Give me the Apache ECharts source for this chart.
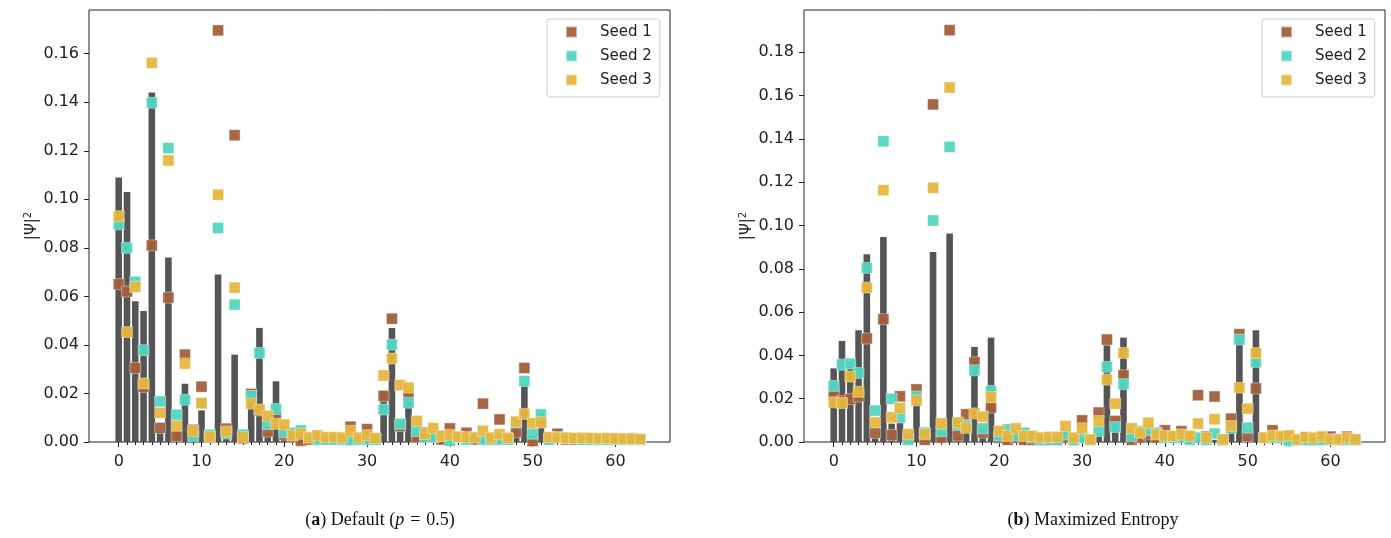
<!DOCTYPE html>
<html>
<head>
<meta charset="utf-8">
<script src="https://cdn.jsdelivr.net/npm/echarts@6/dist/echarts.min.js"></script>
<style>
    html, body { margin: 0; padding: 0; background: #fff; }
    #main { width: 1391px; height: 538px; }
</style>
</head>
<body>
<div id="main"></div>
<script>
// basis state index 0..63
var idx = [];
for (var i = 0; i < 64; i++) { idx.push(i); }

var xLabelTicks = [0, 10, 20, 30, 40, 50, 60];
var yTicksA = [0, 0.02, 0.04, 0.06, 0.08, 0.10, 0.12, 0.14, 0.16];
var yTicksB = [0, 0.02, 0.04, 0.06, 0.08, 0.10, 0.12, 0.14, 0.16, 0.18];
var seedNames = ['Seed 1', 'Seed 2', 'Seed 3'];

// (a) Default (p = 0.5)
var barsA = [0.109, 0.103, 0.058, 0.054, 0.144, 0.004, 0.076, 0.004, 0.024, 0.002,
    0.013, 0.001, 0.069, 0.002, 0.036, 0.001, 0.019, 0.047, 0.004, 0.025,
    0.001, 0.002, 0.001, 0.001, 0.001, 0.001, 0.001, 0.001, 0.001, 0.001,
    0.002, 0.001, 0.021, 0.047, 0.005, 0.020, 0.002, 0.001, 0.001, 0.001,
    0.001, 0.001, 0.001, 0.001, 0.001, 0.001, 0.001, 0.001, 0.006, 0.024,
    0.001, 0.012, 0.001, 0.001, 0.001, 0.001, 0.001, 0.001, 0.001, 0.001,
    0.001, 0.001, 0.001, 0.001];
var seed1A = [0.065, 0.062, 0.0305, 0.0227, 0.081, 0.0058, 0.0595, 0.0025, 0.036, 0.005,
    0.0228, 0.002, 0.1696, 0.0055, 0.1264, 0.0015, 0.0198, 0.013, 0.0043, 0.0104,
    0.003, 0.002, 0.0005, 0.001, 0.002, 0.001, 0.001, 0.001, 0.0063, 0.001,
    0.0053, 0.001, 0.019, 0.0508, 0.0066, 0.0193, 0.002, 0.0038, 0.002, 0.001,
    0.0056, 0.002, 0.0038, 0.001, 0.0158, 0.001, 0.0093, 0.001, 0.004, 0.0305,
    0.0004, 0.008, 0.001, 0.0034, 0.001, 0.001, 0.001, 0.001, 0.001, 0.001,
    0.0015, 0.001, 0.0015, 0.001];
var seed2A = [0.0897, 0.080, 0.066, 0.0378, 0.1398, 0.0167, 0.1211, 0.0112, 0.0174, 0.0025,
    0.016, 0.003, 0.0882, 0.0035, 0.0566, 0.003, 0.019, 0.0367, 0.0074, 0.0136,
    0.004, 0.0038, 0.0048, 0.002, 0.001, 0.001, 0.001, 0.001, 0.0008, 0.001,
    0.001, 0.001, 0.0134, 0.0401, 0.0075, 0.0162, 0.0045, 0.002, 0.002, 0.0025,
    0.0005, 0.002, 0.001, 0.002, 0.001, 0.001, 0.001, 0.001, 0.008, 0.0251,
    0.0034, 0.0114, 0.001, 0.002, 0.0015, 0.0015, 0.001, 0.001, 0.001, 0.001,
    0.001, 0.001, 0.001, 0.001];
var seed3A = [0.093, 0.0453, 0.0639, 0.0241, 0.1562, 0.012, 0.116, 0.0067, 0.0323, 0.0045,
    0.016, 0.0022, 0.1019, 0.0043, 0.0636, 0.002, 0.0158, 0.0134, 0.0108, 0.0075,
    0.0072, 0.0027, 0.0034, 0.0018, 0.0027, 0.002, 0.002, 0.0018, 0.0046, 0.0018,
    0.0028, 0.0016, 0.0274, 0.0344, 0.0234, 0.0224, 0.0087, 0.0033, 0.0057, 0.0025,
    0.003, 0.0022, 0.002, 0.0018, 0.0046, 0.0018, 0.0032, 0.0017, 0.0084, 0.0116,
    0.0077, 0.0082, 0.002, 0.0018, 0.0018, 0.0016, 0.0017, 0.0016, 0.0015, 0.0016,
    0.0014, 0.0014, 0.0013, 0.0012];

// (b) Maximized Entropy
var barsB = [0.034, 0.0467, 0.037, 0.0516, 0.0867, 0.002, 0.0947, 0.0085, 0.009, 0.001,
    0.018, 0.001, 0.0878, 0.002, 0.0963, 0.002, 0.010, 0.0439, 0.002, 0.0482,
    0.001, 0.001, 0.001, 0.001, 0.001, 0.001, 0.001, 0.001, 0.002, 0.001,
    0.002, 0.001, 0.004, 0.0447, 0.0105, 0.0482, 0.001, 0.001, 0.002, 0.001,
    0.001, 0.001, 0.001, 0.001, 0.001, 0.001, 0.001, 0.001, 0.009, 0.0495,
    0.001, 0.0516, 0.001, 0.001, 0.001, 0.001, 0.001, 0.001, 0.001, 0.001,
    0.001, 0.001, 0.001, 0.001];
var seed1B = [0.0225, 0.019, 0.0198, 0.021, 0.0478, 0.0042, 0.0567, 0.0032, 0.0211, 0.0015,
    0.0243, 0.001, 0.1559, 0.002, 0.1902, 0.003, 0.0128, 0.0368, 0.0043, 0.0159,
    0.002, 0.001, 0.002, 0.001, 0.001, 0.001, 0.001, 0.001, 0.002, 0.001,
    0.010, 0.001, 0.0136, 0.0473, 0.0097, 0.0308, 0.001, 0.002, 0.0035, 0.002,
    0.0054, 0.002, 0.005, 0.0025, 0.0216, 0.0025, 0.021, 0.001, 0.0108, 0.0498,
    0.0028, 0.0247, 0.002, 0.0054, 0.002, 0.002, 0.001, 0.002, 0.001, 0.002,
    0.0025, 0.001, 0.0025, 0.001];
var seed2B = [0.0259, 0.0357, 0.0362, 0.0319, 0.0804, 0.0145, 0.1389, 0.0199, 0.0113, 0.001,
    0.021, 0.0043, 0.1023, 0.005, 0.1363, 0.008, 0.0074, 0.0331, 0.0063, 0.0236,
    0.003, 0.0058, 0.003, 0.0043, 0.002, 0.001, 0.001, 0.001, 0.0035, 0.001,
    0.002, 0.001, 0.0051, 0.0347, 0.0069, 0.0267, 0.0028, 0.005, 0.0055, 0.0043,
    0.002, 0.002, 0.002, 0.001, 0.002, 0.001, 0.0039, 0.001, 0.0065, 0.0473,
    0.0066, 0.037, 0.002, 0.002, 0.002, 0.0005, 0.001, 0.001, 0.001, 0.001,
    0.001, 0.001, 0.001, 0.001];
var seed3B = [0.0183, 0.018, 0.0302, 0.0232, 0.0713, 0.009, 0.1163, 0.0114, 0.0157, 0.0036,
    0.0192, 0.0036, 0.1174, 0.0086, 0.1637, 0.009, 0.0065, 0.0132, 0.0117, 0.0207,
    0.0051, 0.0028, 0.0063, 0.0028, 0.0028, 0.002, 0.0023, 0.0023, 0.0074, 0.002,
    0.0063, 0.0012, 0.0097, 0.0288, 0.0177, 0.0411, 0.0063, 0.0043, 0.0089, 0.0035,
    0.0028, 0.0028, 0.0035, 0.0028, 0.0085, 0.002, 0.0105, 0.0012, 0.0074, 0.0251,
    0.0154, 0.0411, 0.002, 0.003, 0.0028, 0.003, 0.0012, 0.0023, 0.002, 0.0025,
    0.0012, 0.0012, 0.002, 0.0012];

var seedColors = ['#a3603e', '#52d6c1', '#e7b63d'];
var barColor = '#555555';
var axisColor = '#222222';

function pairs(vals) {
    return vals.map(function (v, i) { return [idx[i], v]; });
}

var chart = echarts.init(document.getElementById('main'), null, {renderer: 'canvas'});

var grids = [
    {left: 89, top: 10, width: 581, height: 432, show: true, borderColor: axisColor, borderWidth: 1},
    {left: 804, top: 10, width: 581, height: 432, show: true, borderColor: axisColor, borderWidth: 1}
];

var xAxes = [], yAxes = [], series = [];

/**
 * 一个面板：坐标轴 + 柱状 + 三个种子的散点
 * */
function addPanel(g, bars, seeds, yTicks, ymax) {
    // 小刻度 + 标签
    xAxes.push({
        type: 'value', gridIndex: g, position: 'bottom', min: -3.59, max: 66.59,
        axisLine: {show: false, onZero: false},
        splitLine: {show: false},
        axisTick: {show: true, customValues: idx, length: 3, lineStyle: {color: axisColor}},
        axisLabel: {customValues: xLabelTicks, fontSize: 16, color: axisColor, margin: 12,
            fontFamily: 'DejaVu Sans'}
    });
    // 大刻度
    xAxes.push({
        type: 'value', gridIndex: g, position: 'bottom', min: -3.59, max: 66.59,
        axisLine: {show: false, onZero: false},
        splitLine: {show: false},
        axisTick: {show: true, customValues: xLabelTicks, length: 5, lineStyle: {color: axisColor}},
        axisLabel: {show: false}
    });
    yAxes.push({
        type: 'value', gridIndex: g, position: 'left', min: 0, max: ymax,
        name: '|Ψ|{s|2}', nameLocation: 'middle', nameGap: 47, nameRotate: 90,
        nameTextStyle: {fontSize: 15, color: axisColor, fontFamily: 'DejaVu Sans',
            rich: {s: {fontSize: 10, verticalAlign: 'top', padding: [0, 0, 7, 0]}}},
        axisLine: {show: false, onZero: false},
        splitLine: {show: false},
        axisTick: {show: true, customValues: yTicks, length: 5, lineStyle: {color: axisColor}},
        axisLabel: {customValues: yTicks, fontSize: 16, color: axisColor, margin: 10,
            fontFamily: 'DejaVu Sans',
            formatter: function (v) { return v.toFixed(2); }}
    });

    series.push({
        type: 'bar', name: 'bars', xAxisIndex: g * 2, yAxisIndex: g,
        barWidth: 6.6, itemStyle: {color: barColor},
        data: pairs(bars)
    });
    for (var k = 0; k < seeds.length; k++) {
        series.push({
            type: 'scatter', name: seedNames[k], xAxisIndex: g * 2, yAxisIndex: g,
            symbol: 'rect', symbolSize: 11,
            itemStyle: {color: seedColors[k], opacity: 0.95,
                borderColor: 'rgba(255,255,255,0.5)', borderWidth: 0.8},
            data: pairs(seeds[k])
        });
    }
}

addPanel(0, barsA, [seed1A, seed2A, seed3A], yTicksA, 0.178);
addPanel(1, barsB, [seed1B, seed2B, seed3B], yTicksB, 0.1995);

function legendAt(left) {
    return {
        data: seedNames, orient: 'vertical', left: left, top: 19,
        icon: 'rect', itemWidth: 11, itemHeight: 11, itemGap: 8,
        padding: [5, 8, 9, 18],
        borderColor: '#cccccc', borderWidth: 1, borderRadius: 3,
        backgroundColor: 'rgba(255,255,255,0.8)',
        selectedMode: false,
        textStyle: {fontSize: 15, color: axisColor, fontFamily: 'DejaVu Sans',
            lineHeight: 16, padding: [0, 0, 0, 18]}
    };
}

var capFont = 'Liberation Serif';
var captionRich = {
    n: {fontSize: 18, fontFamily: capFont, fill: '#111'},
    b: {fontSize: 18, fontFamily: capFont, fontWeight: 'bold', fill: '#111'},
    i: {fontSize: 18, fontFamily: capFont, fontStyle: 'italic', fill: '#111'},
    e: {fontSize: 18, fontFamily: capFont, fill: '#111', padding: [0, 6, 0, 6]}
};

var option = {
    animation: false,
    backgroundColor: '#ffffff',
    grid: grids,
    xAxis: xAxes,
    yAxis: yAxes,
    legend: [legendAt(547), legendAt(1262)],
    series: series,
    graphic: [
        {
            type: 'text', x: 380, y: 520, silent: true,
            style: {text: '{n|(}{b|a}{n|) Default (}{i|p}{e|=}{n|0.5)}', rich: captionRich,
                textAlign: 'center', textVerticalAlign: 'middle'}
        },
        {
            type: 'text', x: 1093, y: 520, silent: true,
            style: {text: '{n|(}{b|b}{n|) Maximized Entropy}', rich: captionRich,
                textAlign: 'center', textVerticalAlign: 'middle'}
        }
    ]
};

chart.setOption(option);
</script>
</body>
</html>
